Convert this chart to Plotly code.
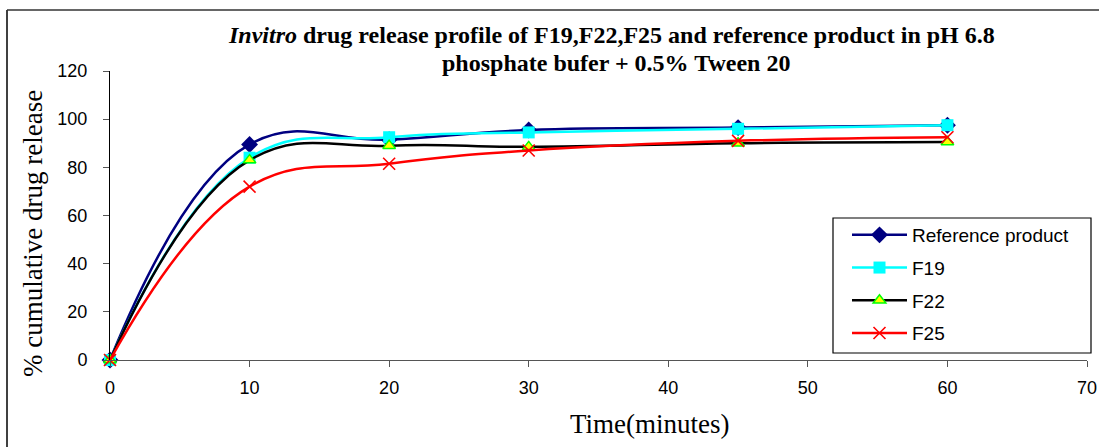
import plotly.graph_objects as go

time_min = [0, 10, 20, 30, 45, 60]
reference_product = [0, 89.5, 91.5, 95.5, 96.5, 97.5]
f19 = [0, 84, 92.5, 94.5, 96, 97.5]
f22 = [0, 83, 89, 88.5, 90, 90.5]
f25 = [0, 72, 81.5, 87, 91, 92.5]

x_ticks = [0, 10, 20, 30, 40, 50, 60, 70]
y_ticks = [0, 20, 40, 60, 80, 100, 120]

SERIF = "Liberation Serif, Times New Roman, serif"
SANS = "Liberation Sans, Arial, sans-serif"

fig = go.Figure()

series = [
    ("Reference product", reference_product, "#000080",
     dict(symbol="diamond", size=13, color="#000080", line=dict(color="#000080", width=0))),
    ("F19", f19, "#00FFFF",
     dict(symbol="square", size=12, color="#00FFFF", line=dict(color="#00FFFF", width=0))),
    ("F22", f22, "#000000",
     dict(symbol="triangle-up", size=11, color="#FFFF00", line=dict(color="#00FF00", width=1.5))),
    ("F25", f25, "#FF0000",
     dict(symbol="x-thin", size=12, color="#FF0000", line=dict(color="#FF0000", width=1.6))),
]

for i, (name, vals, col, mk) in enumerate(series):
    fig.add_trace(go.Scatter(
        x=time_min, y=vals, name=name, mode="lines+markers",
        line=dict(color=col, width=2.5, shape="spline", smoothing=1.2),
        marker=mk, cliponaxis=False, legendgroup=f"g{i}",
    ))

L, R, T, B = 110, 12, 71, 87
W, H = 1099, 447
pw, ph = W - L - R, H - T - B

def px_x(p):
    return (p - L) / pw

def px_y(p):
    return 1 - (p - T) / ph

fig.update_layout(
    width=W, height=H,
    margin=dict(l=L, r=R, t=T, b=B, autoexpand=False),
    paper_bgcolor="white", plot_bgcolor="white",
    showlegend=True,
    legend=dict(
        x=px_x(847), y=px_y(216), xanchor="left", yanchor="top",
        bgcolor="rgba(0,0,0,0)", borderwidth=0,
        font=dict(family=SANS, size=19, color="black"),
        tracegroupgap=5, itemwidth=55,
    ),
    xaxis=dict(
        range=[0, 70], tickvals=x_ticks, ticktext=[str(v) for v in x_ticks],
        showgrid=False, zeroline=False, showline=True, linecolor="#555555", linewidth=1,
        ticks="outside", ticklen=6, tickcolor="#555555", ticklabelstandoff=5,
        tickfont=dict(family=SANS, size=18, color="black"),
    ),
    yaxis=dict(
        range=[0, 120], tickvals=y_ticks, ticktext=[str(v) for v in y_ticks],
        showgrid=False, zeroline=False, showline=True, linecolor="black", linewidth=1,
        ticks="outside", ticklen=6, tickcolor="#555555", ticklabelstandoff=12,
        tickfont=dict(family=SANS, size=18, color="black"),
    ),
    annotations=[
        dict(text="<b><i>Invitro</i> drug release profile of F19,F22,F25 and reference product in pH 6.8</b>",
             x=px_x(611), y=px_y(35), xref="paper", yref="paper",
             xanchor="center", yanchor="middle", showarrow=False,
             font=dict(family=SERIF, size=24, color="black")),
        dict(text="<b>phosphate bufer + 0.5% Tween 20</b>",
             x=px_x(616), y=px_y(63), xref="paper", yref="paper",
             xanchor="center", yanchor="middle", showarrow=False,
             font=dict(family=SERIF, size=24, color="black")),
        dict(text="% cumulative drug release", x=px_x(33), y=px_y(234),
             xref="paper", yref="paper", xanchor="center", yanchor="middle",
             textangle=-90, showarrow=False,
             font=dict(family=SERIF, size=27, color="black")),
        dict(text="Time(minutes)", x=px_x(650), y=px_y(424),
             xref="paper", yref="paper", xanchor="center", yanchor="middle",
             showarrow=False, font=dict(family=SERIF, size=27, color="black")),
    ],
    shapes=[
        dict(type="line", xref="paper", yref="paper",
             x0=px_x(7), y0=px_y(10), x1=px_x(7), y1=px_y(447),
             line=dict(color="black", width=1.5)),
        dict(type="line", xref="paper", yref="paper",
             x0=px_x(7), y0=px_y(10), x1=px_x(1099), y1=px_y(10),
             line=dict(color="#333333", width=1.5)),
        dict(type="rect", xref="paper", yref="paper", layer="below",
             x0=px_x(833), y0=px_y(218), x1=px_x(1091), y1=px_y(353),
             fillcolor="white", line=dict(color="black", width=1.2)),
    ],
)

fig.write_html("out.html")
